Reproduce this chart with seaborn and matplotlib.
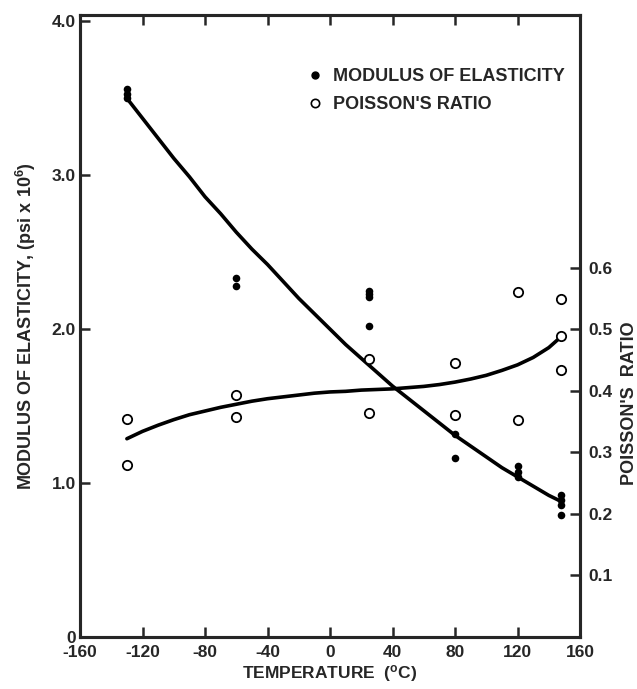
import numpy as np
import pandas as pd
import matplotlib
matplotlib.use("Agg")
import matplotlib.pyplot as plt
import seaborn as sns
from matplotlib.lines import Line2D

# Data

# measured modulus of elasticity (psi x 10^6)
mod_temp = [-130, -130, -130, -60, -60, 25, 25, 25, 25, 80, 80, 120, 120, 120, 148, 148, 148, 148]
mod_value = [3.56, 3.53, 3.50, 2.33, 2.28, 2.25, 2.23, 2.21, 2.02, 1.32, 1.16, 1.11, 1.07, 1.04, 0.92, 0.89, 0.86, 0.79]

# measured Poisson's ratio
poi_temp = [-130, -130, -60, -60, 25, 25, 80, 80, 120, 120, 148, 148, 148]
poi_value = [0.354, 0.280, 0.393, 0.358, 0.452, 0.363, 0.445, 0.361, 0.560, 0.353, 0.549, 0.489, 0.433]

# fitted curves as drawn (read every 10 degrees)
curve_temp = [-130, -120, -110, -100, -90, -80, -70, -60, -50, -40, -30, -20, -10, 0,
              10, 20, 30, 40, 50, 60, 70, 80, 90, 100, 110, 120, 130, 140, 148]
mod_curve = [3.50, 3.37, 3.24, 3.11, 2.99, 2.86, 2.75, 2.63, 2.52, 2.42, 2.31, 2.20, 2.10, 2.00,
             1.90, 1.81, 1.72, 1.63, 1.55, 1.47, 1.39, 1.31, 1.24, 1.17, 1.10, 1.04, 0.98, 0.92, 0.88]
poi_curve = [0.322, 0.334, 0.344, 0.353, 0.361, 0.367, 0.373, 0.378, 0.383, 0.387, 0.390, 0.393, 0.396, 0.398,
             0.399, 0.401, 0.402, 0.403, 0.405, 0.407, 0.410, 0.414, 0.419, 0.425, 0.433, 0.442, 0.454, 0.470, 0.488]

x_ticks = [-160, -120, -80, -40, 0, 40, 80, 120, 160]
left_ticks = [0, 1.0, 2.0, 3.0, 4.0]
left_labels = ["0", "1.0", "2.0", "3.0", "4.0"]
right_ticks = [0.1, 0.2, 0.3, 0.4, 0.5, 0.6]

mod_pts = pd.DataFrame({"temp": mod_temp, "value": mod_value})
poi_pts = pd.DataFrame({"temp": poi_temp, "value": poi_value})
fits = pd.DataFrame({"temp": curve_temp, "modulus": mod_curve, "poisson": poi_curve})

sns.set_theme(style="ticks")
plt.rcParams["font.family"] = ["Liberation Sans", "DejaVu Sans"]
plt.rcParams["font.weight"] = "bold"
plt.rcParams["mathtext.fontset"] = "custom"
plt.rcParams["mathtext.rm"] = "Liberation Sans:bold"
plt.rcParams["mathtext.it"] = "Liberation Sans:bold"
plt.rcParams["mathtext.bf"] = "Liberation Sans:bold"

fig = plt.figure(figsize=(6.37, 6.89), dpi=100)
ax = fig.add_axes([0.1256, 0.0755, 0.785, 0.9025])
ax2 = ax.twinx()

# left axis: modulus
sns.lineplot(data=fits, x="temp", y="modulus", ax=ax, color="black", linewidth=2.6, sort=False)
sns.scatterplot(data=mod_pts, x="temp", y="value", ax=ax, color="black", s=30, linewidth=0, zorder=3)

# right axis: Poisson's ratio
sns.lineplot(data=fits, x="temp", y="poisson", ax=ax2, color="black", linewidth=2.6, sort=False)
sns.scatterplot(data=poi_pts, x="temp", y="value", ax=ax2, facecolor="white", edgecolor="black",
                s=45, linewidth=1.3, zorder=3)

ax.set_xlim(-160, 160)
ax.set_ylim(0, 4.04)
ax2.set_ylim(0, 1.01)

ax.set_xticks(x_ticks)
ax.set_xticklabels([str(t) for t in x_ticks])
ax.set_yticks(left_ticks)
ax.set_yticklabels(left_labels)
ax2.set_yticks(right_ticks)
ax2.set_yticklabels([f"{t:.1f}" for t in right_ticks])

ax.tick_params(axis="x", direction="in", top=True, length=7, width=1.8, labelsize=12.5, pad=6)
ax.tick_params(axis="y", direction="in", length=7, width=1.8, labelsize=12.5, pad=3)
ax2.tick_params(axis="y", direction="in", length=7, width=1.8, labelsize=12.5, pad=6)

for a in (ax, ax2):
    for sp in a.spines.values():
        sp.set_visible(True)
        sp.set_linewidth(2.2)

ax.set_xlabel("TEMPERATURE  ($^{o}$C)", fontsize=12.5, fontweight="bold", labelpad=2)
ax.set_ylabel("MODULUS OF ELASTICITY, (psi x 10$^{6}$)", fontsize=13, fontweight="bold", labelpad=10)
ax2.set_ylabel("POISSON'S  RATIO", fontsize=13, fontweight="bold", rotation=90)
ax2.yaxis.set_label_coords(1.082, 0.376)

handles = [
    Line2D([], [], linestyle="none", marker="o", markersize=5, markerfacecolor="black", markeredgecolor="black"),
    Line2D([], [], linestyle="none", marker="o", markersize=6, markerfacecolor="white",
           markeredgecolor="black", markeredgewidth=1.2),
]
ax.legend(handles, ["MODULUS OF ELASTICITY", "POISSON'S RATIO"], loc="upper left",
          bbox_to_anchor=(0.452, 0.915), borderaxespad=0, borderpad=0, frameon=False,
          handletextpad=0.5, handlelength=1.0, labelspacing=0.6,
          prop={"weight": "bold", "size": 13})

fig.savefig("out.png", dpi=100)
